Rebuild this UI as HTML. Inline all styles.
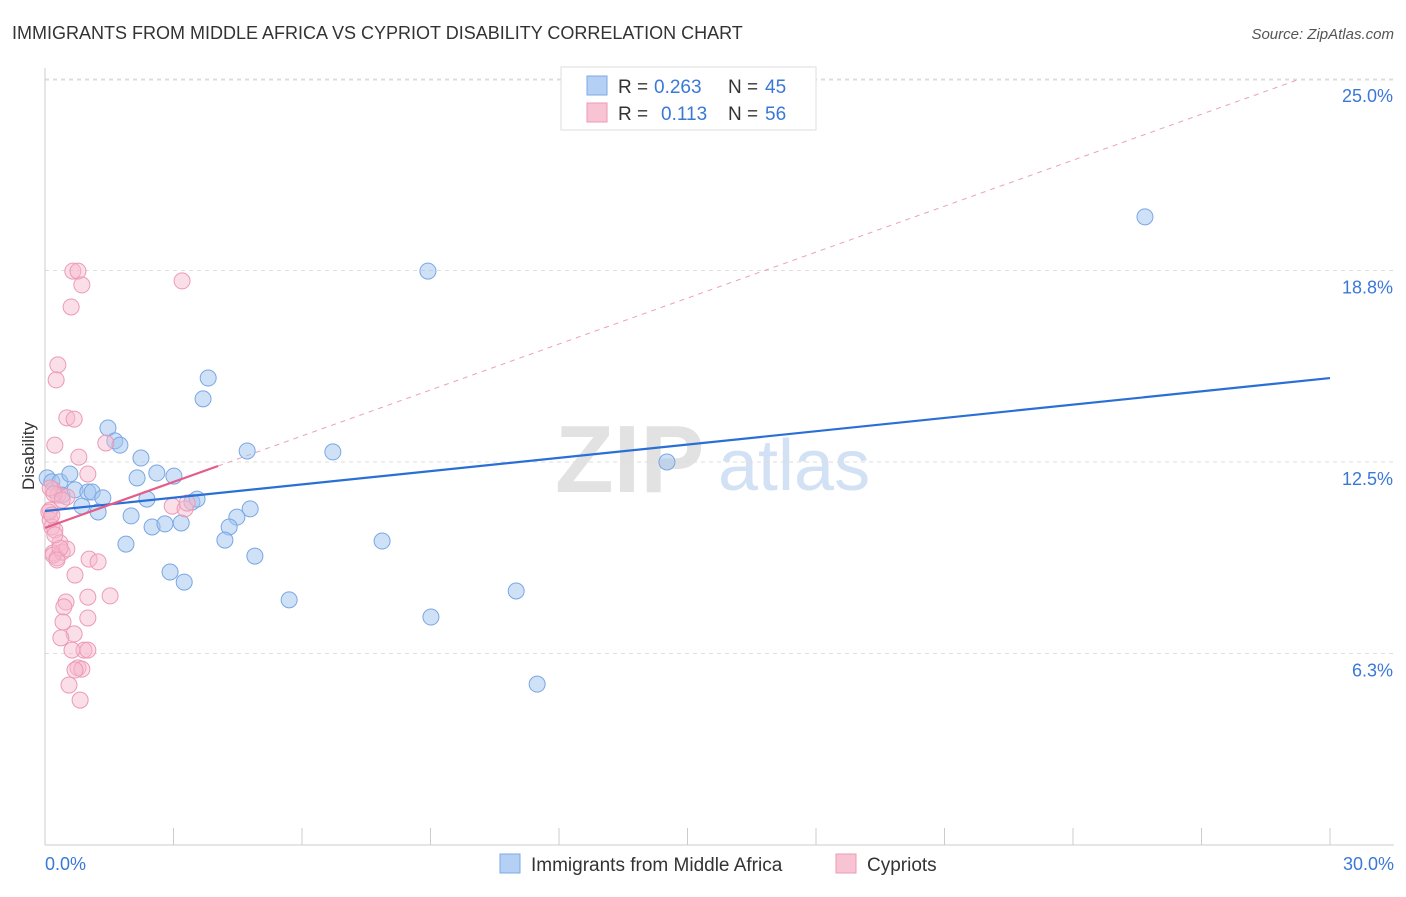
<!DOCTYPE html>
<html><head><meta charset="utf-8"><style>
body{margin:0;background:#fff;font-family:"Liberation Sans",sans-serif;}
svg text{font-family:"Liberation Sans",sans-serif;}
</style></head><body>
<svg id="chart" width="1406" height="892" xmlns="http://www.w3.org/2000/svg">
<text x="12" y="39" font-size="18" fill="#333">IMMIGRANTS FROM MIDDLE AFRICA VS CYPRIOT DISABILITY CORRELATION CHART</text>
<text x="1394" y="39" font-size="15" fill="#555" text-anchor="end" font-style="italic">Source: ZipAtlas.com</text>
<text x="555" y="492" font-size="96" fill="#e2e2e2" font-family="Liberation Serif" font-weight="bold">ZIP</text>
<text x="718" y="490" font-size="72" fill="#d2e1f4">atlas</text>
<g id="grid"></g>
<g id="axes"></g>
<g id="marks"></g>
<text transform="translate(34,456) rotate(-90)" font-size="17" fill="#333" text-anchor="middle">Disability</text>
<text x="45" y="870" font-size="18" fill="#3a78d8">0.0%</text>
<text x="1394" y="870" font-size="18" fill="#3a78d8" text-anchor="end">30.0%</text>
<g>
<rect x="561" y="67" width="255" height="63" fill="#fff" stroke="#ddd"/>
<rect x="587" y="76" width="20" height="19" fill="#b4d0f4" stroke="#7fa8e6"/>
<rect x="587" y="103" width="20" height="19" fill="#f8c4d4" stroke="#ee9ab4"/>
<text x="618" y="93" font-size="19" fill="#333">R =</text>
<text x="654" y="93" font-size="19" fill="#3a78d8">0.263</text>
<text x="728" y="93" font-size="19" fill="#333">N =</text>
<text x="765" y="93" font-size="19" fill="#3a78d8">45</text>
<text x="618" y="120" font-size="19" fill="#333">R =</text>
<text x="661" y="120" font-size="19" fill="#3a78d8">0.113</text>
<text x="728" y="120" font-size="19" fill="#333">N =</text>
<text x="765" y="120" font-size="19" fill="#3a78d8">56</text>
</g>
<g>
<rect x="500" y="854" width="20" height="19" fill="#b4d0f4" stroke="#7fa8e6"/>
<text x="531" y="871" font-size="19" fill="#333">Immigrants from Middle Africa</text>
<rect x="836" y="854" width="20" height="19" fill="#f8c4d4" stroke="#ee9ab4"/>
<text x="867" y="871" font-size="19" fill="#333">Cypriots</text>
</g>
</svg>
<script>
const yTicks=[6.25,12.5,18.75,25];
const yTickLabels=["6.3%","12.5%","18.8%","25.0%"];
const blueX=[0.05,0.16,0.35,0.58,0.40,0.70,1.00,1.10,0.86,1.35,1.24,1.47,1.63,1.75,2.15,2.24,2.38,2.61,2.01,2.50,2.80,3.01,3.18,3.43,3.55,3.69,3.81,4.48,4.30,4.79,4.20,1.89,2.92,3.25,4.90,4.72,5.70,6.72,7.87,8.94,9.01,11.00,11.49,14.52,25.68];
const blueY=[11.98,11.85,11.85,12.11,11.42,11.59,11.52,11.52,11.06,11.33,10.87,13.61,13.19,13.05,11.98,12.63,11.29,12.14,10.74,10.38,10.48,12.04,10.51,11.19,11.29,14.56,15.24,10.70,10.38,10.97,9.95,9.82,8.91,8.58,9.43,12.86,8.00,12.83,9.92,18.73,7.44,8.29,5.25,12.50,20.50];
const pinkX=[0.65,0.77,0.86,3.20,0.61,0.30,0.26,0.51,0.68,0.23,1.42,0.79,1.00,0.19,0.30,0.51,0.12,0.12,0.16,0.23,2.97,3.27,3.32,0.35,0.19,0.28,0.40,0.51,1.03,1.24,0.70,1.00,1.52,0.49,0.44,0.42,1.00,0.68,0.37,0.91,1.00,0.77,0.86,0.70,0.56,0.82,0.09,0.12,0.21,0.19,0.35,0.28,0.63,0.23,0.16,0.40];
const pinkY=[18.73,18.73,18.28,18.41,17.56,15.67,15.18,13.94,13.90,13.05,13.12,12.66,12.11,11.59,11.42,11.36,10.93,10.61,10.38,10.28,11.06,10.97,11.16,9.86,9.53,9.37,9.56,9.66,9.33,9.24,8.81,8.09,8.13,7.93,7.77,7.28,7.41,6.89,6.76,6.36,6.36,5.78,5.74,5.71,5.22,4.73,10.87,11.65,11.46,9.46,9.69,9.30,6.36,10.12,10.77,11.26];
const blueTrend=[10.90,15.24];
const pinkTrend=[10.35,0.5];
const NS="http://www.w3.org/2000/svg";
const X0=45,X1=1330,Y0=845,PPY=191.5/6.25;
function sx(v){return X0+(v/30)*(X1-X0);}
function sy(v){return Y0-v*PPY;}
function mk(tag,attrs,parent){const e=document.createElementNS(NS,tag);for(const k in attrs)e.setAttribute(k,attrs[k]);parent.appendChild(e);return e;}
const gridG=document.getElementById('grid'),axesG=document.getElementById('axes'),marksG=document.getElementById('marks');
yTicks.forEach((t,i)=>{
 const l=mk('line',{x1:X0,x2:1394,y1:sy(t),y2:sy(t),stroke:'#ddd','stroke-dasharray':'4,4'},gridG);
 
 
 const tx=mk('text',{x:1393,y:sy(t)+23,'font-size':18,fill:'#3a78d8','text-anchor':'end'},gridG);
 tx.textContent=yTickLabels[i];
 
 
});
const topGrid=mk('line',{x1:X0,x2:1394,y1:80,y2:80,stroke:'#ddd','stroke-dasharray':'4,4'},gridG);


const xa=mk('line',{x1:X0,x2:1394,y1:Y0,y2:Y0,stroke:'#ccc'},axesG);


const ya=mk('line',{x1:X0,x2:X0,y1:68,y2:Y0,stroke:'#ccc'},axesG);


for(let i=0;i<=10;i++){const t=mk('line',{x1:sx(i*3),x2:sx(i*3),y1:828,y2:Y0,stroke:'#ccc'},axesG);
 
 }
const pd=mk('line',{x1:sx(4.04),y1:sy(pinkTrend[0]+pinkTrend[1]*4.04),x2:sx(29.3),y2:sy(pinkTrend[0]+pinkTrend[1]*29.3),stroke:'#eca0b8','stroke-dasharray':'5,5','stroke-width':1},marksG);


blueX.forEach((x,i)=>{const c=mk('circle',{cx:sx(x),cy:sy(blueY[i]),r:8,fill:'rgba(160,196,240,0.5)',stroke:'#7aa6e4','stroke-width':1},marksG);
 
 });
pinkX.forEach((x,i)=>{const c=mk('circle',{cx:sx(x),cy:sy(pinkY[i]),r:8,fill:'rgba(246,184,204,0.45)',stroke:'#ec9ab6','stroke-width':1},marksG);
 
 });
const bl=mk('line',{x1:sx(0),y1:sy(blueTrend[0]),x2:sx(30),y2:sy(blueTrend[1]),stroke:'#2a6fd6','stroke-width':2.2},marksG);


const pl=mk('line',{x1:sx(0),y1:sy(pinkTrend[0]),x2:sx(4.04),y2:sy(pinkTrend[0]+pinkTrend[1]*4.04),stroke:'#e45c8a','stroke-width':2.2},marksG);


</script>
</body></html>
